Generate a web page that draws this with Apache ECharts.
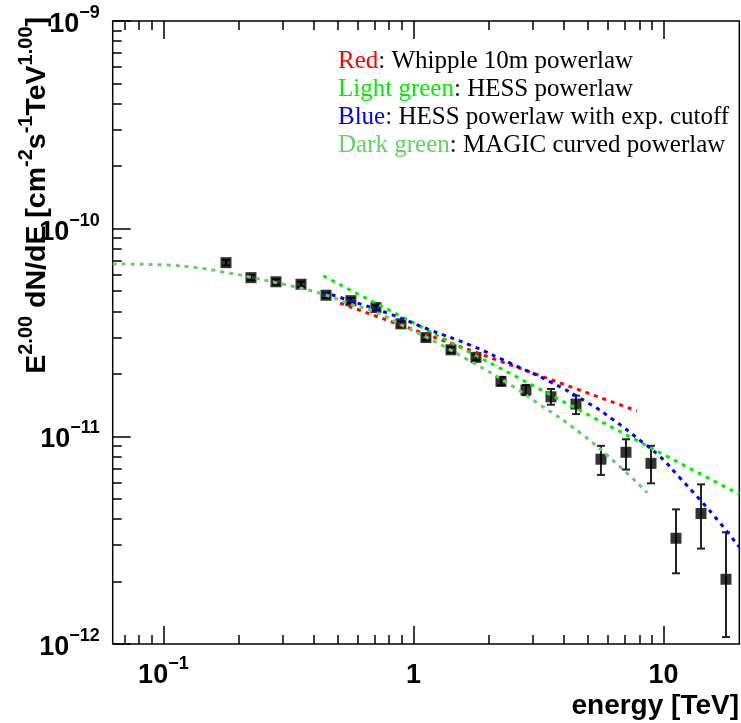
<!DOCTYPE html>
<html>
<head>
<meta charset="utf-8">
<script src="https://cdn.jsdelivr.net/npm/echarts@6/dist/echarts.min.js"></script>
<style>
  html, body { margin: 0; padding: 0; background: #fff; }
  #chart { width: 741px; height: 723px; }
</style>
</head>
<body>
<div id="chart"></div>
<script>
// Crab Nebula SED: measured flux points with the fitted spectral models.

// Measured points (energy in TeV, E^2 dN/dE in cm^-2 s^-1 TeV)
const energy = [0.178, 0.224, 0.282, 0.355, 0.447, 0.562, 0.708, 0.891, 1.122, 1.413,
                1.778, 2.239, 2.818, 3.548, 4.467, 5.623, 7.079, 8.913, 11.22, 14.13, 17.78];
const flux = [6.86e-11, 5.81e-11, 5.55e-11, 5.40e-11, 4.78e-11, 4.50e-11, 4.17e-11, 3.48e-11,
              2.99e-11, 2.61e-11, 2.40e-11, 1.84e-11, 1.67e-11, 1.55e-11, 1.43e-11, 7.76e-12,
              8.38e-12, 7.41e-12, 3.23e-12, 4.25e-12, 2.05e-12];
const fluxLow = [6.65e-11, 5.64e-11, 5.38e-11, 5.24e-11, 4.64e-11, 4.37e-11, 4.04e-11, 3.38e-11,
                 2.90e-11, 2.53e-11, 2.32e-11, 1.76e-11, 1.58e-11, 1.42e-11, 1.28e-11, 6.52e-12,
                 6.92e-12, 5.94e-12, 2.19e-12, 2.88e-12, 1.08e-12];
const fluxHigh = [7.07e-11, 5.98e-11, 5.72e-11, 5.56e-11, 4.92e-11, 4.64e-11, 4.30e-11, 3.58e-11,
                  3.08e-11, 2.69e-11, 2.47e-11, 1.93e-11, 1.77e-11, 1.69e-11, 1.57e-11, 9.00e-12,
                  9.68e-12, 9.00e-12, 4.45e-12, 5.87e-12, 3.45e-12];

// Whipple 10m power law
const whippleE = [0.509, 2.0, 7.83];
const whippleF = [4.38e-11, 2.41e-11, 1.325e-11];

// HESS power law
const hessPlE = [0.436, 1.0, 3.0, 10.0, 20.1];
const hessPlF = [5.92e-11, 3.52e-11, 1.76e-11, 8.17e-12, 5.26e-12];

// HESS power law with exponential cutoff
const hessCutE = [0.436, 0.558, 0.807, 1.166, 1.686, 2.437, 3.523, 4.94, 6.31, 8.07, 9.70, 11.66, 14.02, 16.86, 20.1];
const hessCutF = [4.95e-11, 4.50e-11, 3.88e-11, 3.25e-11, 2.75e-11, 2.25e-11, 1.83e-11, 1.46e-11, 1.20e-11,
                  9.55e-12, 7.98e-12, 6.29e-12, 4.94e-12, 3.82e-12, 2.93e-12];

// MAGIC curved power law
const magicE = [0.0627, 0.1035, 0.138, 0.173, 0.222, 0.285, 0.352, 0.444, 0.558, 0.703,
                0.944, 1.244, 1.733, 2.37, 3.21, 4.64, 6.71, 8.61];
const magicF = [6.76e-11, 6.68e-11, 6.47e-11, 6.19e-11, 5.85e-11, 5.48e-11, 5.18e-11, 4.80e-11,
                4.34e-11, 3.97e-11, 3.33e-11, 2.82e-11, 2.26e-11, 1.81e-11, 1.42e-11, 1.04e-11,
                7.13e-12, 5.35e-12];

// Axis ranges and tick positions
const xRange = [0.0627, 20.1];
const yRange = [1e-12, 1e-9];
const xMajorTicks = [0.1, 1, 10];
const xMinorTicks = [0.07, 0.08, 0.09, 0.2, 0.3, 0.4, 0.5, 0.6, 0.7, 0.8, 0.9, 2, 3, 4, 5, 6, 7, 8, 9];
const yMajorTicks = [1e-12, 1e-11, 1e-10, 1e-9];
const yMinorTicks = [2e-12, 3e-12, 4e-12, 5e-12, 6e-12, 7e-12, 8e-12, 9e-12,
                     2e-11, 3e-11, 4e-11, 5e-11, 6e-11, 7e-11, 8e-11, 9e-11,
                     2e-10, 3e-10, 4e-10, 5e-10, 6e-10, 7e-10, 8e-10, 9e-10];

const SANS = "'Liberation Sans', Arial, sans-serif";
const SERIF = "'Liberation Serif', 'Times New Roman', serif";

const labelRich = {
  b: { color: '#000', fontFamily: SANS, fontWeight: 'bold', fontSize: 27, lineHeight: 34, verticalAlign: 'bottom' },
  s: { color: '#000', fontFamily: SANS, fontWeight: 'bold', fontSize: 18, verticalAlign: 'top' }
};

function powerLabel(v) {
  const n = Math.round(Math.log10(v));
  if (n === 0) return '{b|1}';
  if (n === 1) return '{b|10}';
  return '{b|10}{s|' + (n < 0 ? '\u2212' + (-n) : n) + '}';
}

const tickLine = { color: '#000', width: 1.5 };

function xAxisDef(position, ticks, len, withLabels) {
  return {
    type: 'log', logBase: 10, min: xRange[0], max: xRange[1], position: position,
    axisLine: { show: false },
    axisTick: { show: true, inside: true, length: len, lineStyle: tickLine, customValues: ticks },
    axisLabel: withLabels
      ? { show: true, customValues: ticks, formatter: powerLabel, rich: labelRich, margin: 11 }
      : { show: false },
    splitLine: { show: false }
  };
}

function yAxisDef(ticks, len, withLabels) {
  return {
    type: 'log', logBase: 10, min: yRange[0], max: yRange[1], position: 'left',
    axisLine: { show: false },
    axisTick: { show: true, inside: true, length: len, lineStyle: tickLine, customValues: ticks },
    axisLabel: withLabels
      ? { show: true, customValues: ticks, formatter: powerLabel, rich: labelRich, margin: 13 }
      : { show: false },
    splitLine: { show: false }
  };
}

const pairs = (xs, ys) => xs.map((x, i) => [x, ys[i]]);

function modelLine(name, xs, ys, color, smooth) {
  return {
    name: name, type: 'line', data: pairs(xs, ys), showSymbol: false, smooth: smooth,
    lineStyle: { color: color, width: 3, type: [4, 5] }, z: 5, silent: true
  };
}

const chart = echarts.init(document.getElementById('chart'), null, { renderer: 'canvas' });

chart.setOption({
  animation: false,
  backgroundColor: '#fff',
  grid: {
    left: 112.7, right: 1.7, top: 21, bottom: 79,
    show: true, borderColor: '#000', borderWidth: 1.5, backgroundColor: 'transparent',
    outerBoundsMode: 'none'
  },
  xAxis: [
    xAxisDef('bottom', xMajorTicks, 18, true),
    xAxisDef('bottom', xMinorTicks, 9, false),
    xAxisDef('top', xMajorTicks, 18, false),
    xAxisDef('top', xMinorTicks, 9, false)
  ],
  yAxis: [
    yAxisDef(yMajorTicks, 18, true),
    yAxisDef(yMinorTicks, 9, false)
  ],
  series: [
    {
      name: 'error bars', type: 'custom', z: 3,
      encode: { x: 0, y: [1, 2] },
      data: energy.map((e, i) => [e, fluxLow[i], fluxHigh[i]]),
      renderItem: function (params, api) {
        const e = api.value(0);
        const lo = api.coord([e, api.value(1)]);
        const hi = api.coord([e, api.value(2)]);
        const w = 4;
        const st = { stroke: '#222', lineWidth: 2 };
        return {
          type: 'group',
          children: [
            { type: 'line', shape: { x1: lo[0], y1: lo[1], x2: hi[0], y2: hi[1] }, style: st },
            { type: 'line', shape: { x1: lo[0] - w, y1: lo[1], x2: lo[0] + w, y2: lo[1] }, style: st },
            { type: 'line', shape: { x1: hi[0] - w, y1: hi[1], x2: hi[0] + w, y2: hi[1] }, style: st }
          ]
        };
      }
    },
    {
      name: 'flux points', type: 'scatter', z: 4,
      data: pairs(energy, flux),
      symbol: 'rect', symbolSize: 11,
      itemStyle: { color: '#000' }
    },
    modelLine('Whipple 10m powerlaw', whippleE, whippleF, '#ff0000', false),
    modelLine('HESS powerlaw', hessPlE, hessPlF, '#00ee00', false),
    modelLine('HESS powerlaw with exp. cutoff', hessCutE, hessCutF, '#0000ff', true),
    modelLine('MAGIC curved powerlaw', magicE, magicF, '#5fd35f', true)
  ],
  graphic: [
    {
      type: 'text', x: 34, y: 17, rotation: Math.PI / 2,
      style: {
        text: '{b|E}{s|2.00}{b| dN/dE [cm}{s|-2}{b|s}{s|-1}{b|TeV}{s|1.00}{b|]}',
        align: 'right', verticalAlign: 'middle',
        rich: {
          b: { fill: '#000', fontFamily: SANS, fontWeight: 'bold', fontSize: 28.5, lineHeight: 35, verticalAlign: 'bottom' },
          s: { fill: '#000', fontFamily: SANS, fontWeight: 'bold', fontSize: 20, verticalAlign: 'top' }
        }
      }
    },
    {
      type: 'text', x: 739, y: 706,
      style: {
        text: 'energy [TeV]', fill: '#000', align: 'right', verticalAlign: 'middle',
        fontFamily: SANS, fontWeight: 'bold', fontSize: 28
      }
    },
    {
      type: 'group', x: 338, y: 61,
      children: [
        ['{r|Red}: Whipple 10m powerlaw', 0],
        ['{lg|Light green}: HESS powerlaw', 28],
        ['{bl|Blue}: HESS powerlaw with exp. cutoff', 56],
        ['{dg|Dark green}: MAGIC curved powerlaw', 84]
      ].map(function (row) {
        return {
          type: 'text', x: 0, y: row[1],
          style: {
            text: row[0], fill: '#000', align: 'left', verticalAlign: 'middle',
            fontFamily: SERIF, fontSize: 25,
            rich: {
              r: { fill: '#ff0000', fontFamily: SERIF, fontSize: 25 },
              lg: { fill: '#00ee00', fontFamily: SERIF, fontSize: 25 },
              bl: { fill: '#0000ff', fontFamily: SERIF, fontSize: 25 },
              dg: { fill: '#5fd35f', fontFamily: SERIF, fontSize: 25 }
            }
          }
        };
      })
    }
  ]
});
</script>
</body>
</html>
